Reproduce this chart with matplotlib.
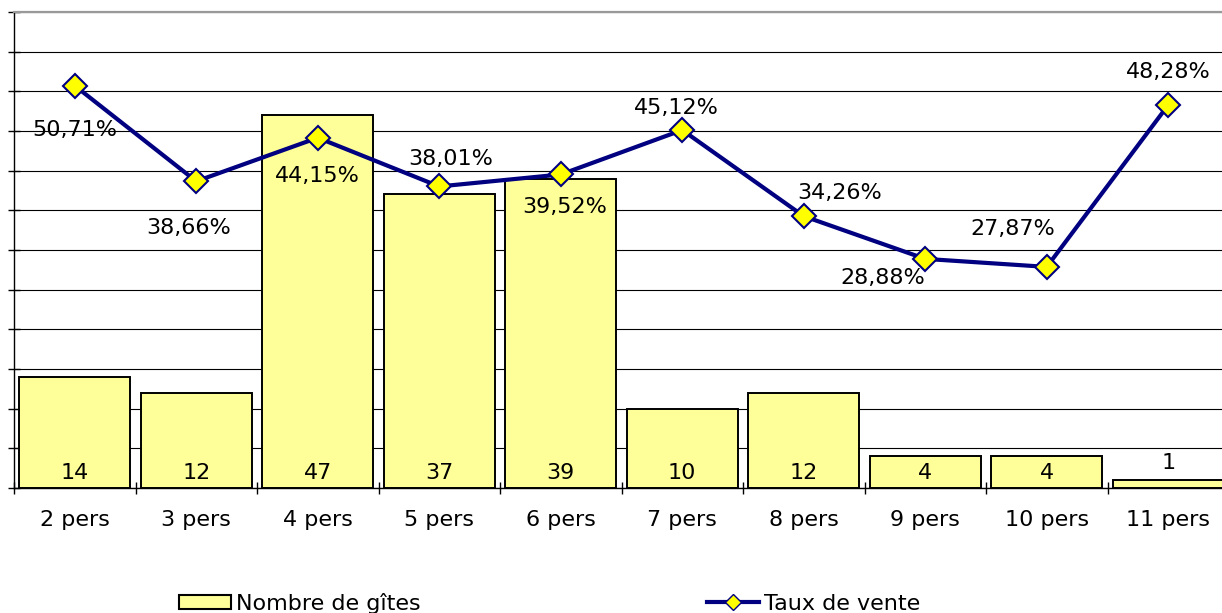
'''Nombre de gites et taux de vente par capacite'''

import matplotlib
matplotlib.use("Agg")
import matplotlib.pyplot as plt
from matplotlib.patches import Patch
from matplotlib.lines import Line2D

######################################
# DATA
categories = ["2 pers", "3 pers", "4 pers", "5 pers", "6 pers",
              "7 pers", "8 pers", "9 pers", "10 pers", "11 pers"]
nb_gites = [14, 12, 47, 37, 39, 10, 12, 4, 4, 1]
taux_vente = [50.71, 38.66, 44.15, 38.01, 39.52, 45.12, 34.26, 28.88, 27.87, 48.28]
######################################

# label offsets for the percentages (pixels, from the marker)
pct_offsets = [(0, -44), (-8, -47), (0, -38), (11, 27), (4, -33),
               (-6, 22), (36, 23), (-42, -19), (-34, 38), (0, 33)]

font_size = 16
navy = "#000080"

fig = plt.figure(figsize=(12.22, 6.13), dpi=100)
ax = fig.add_axes([14 / 1222, 125 / 613, 1215 / 1222, 476 / 613])

x = list(range(len(categories)))

# gridlines behind the bars
ax.set_axisbelow(True)
ax.yaxis.grid(True, color="black", linewidth=0.8)
ax.bar(x, nb_gites, width=0.91, color="#FFFF99", edgecolor="black", linewidth=1.4, zorder=2)

# bar counts, near the base (above the bar when it is too thin)
for xi, val in zip(x, nb_gites):
    if val < 3:
        ax.annotate(str(val), (xi, val), xytext=(0, 17), textcoords="offset pixels",
                    ha="center", va="center", fontsize=font_size, zorder=5)
    else:
        ax.annotate(str(val), (xi, 0), xytext=(0, 15), textcoords="offset pixels",
                    ha="center", va="center", fontsize=font_size, zorder=5)

ax.set_xlim(-0.5, len(categories) - 0.5)
ax.set_ylim(0, 60)
ax.set_yticks(range(0, 61, 5))
ax.set_yticklabels([])
ax.tick_params(axis="y", direction="inout", length=9, width=1)

ax.set_xticks(x)
ax.set_xticklabels(categories, fontsize=font_size)
ax.set_xticks([i - 0.5 for i in x], minor=True)
ax.tick_params(axis="x", which="major", length=0, pad=16)
ax.tick_params(axis="x", which="minor", direction="inout", length=8, width=1)

ax.spines["right"].set_visible(False)
ax.spines["top"].set_color("#999999")
ax.spines["top"].set_linewidth(1.6)
ax.spines["left"].set_linewidth(1)
ax.spines["bottom"].set_linewidth(1)

# taux de vente on a second axis with the same scale
ax2 = ax.twinx()
ax2.set_ylim(0, 60)
ax2.axis("off")
ax2.plot(x, taux_vente, color=navy, linewidth=3, marker="D", markersize=12.5,
         markerfacecolor="#FFFF00", markeredgecolor=navy, markeredgewidth=1.5, zorder=4)

for xi, val, off in zip(x, taux_vente, pct_offsets):
    txt = ("%.2f%%" % val).replace(".", ",")
    ax2.annotate(txt, (xi, val), xytext=off, textcoords="offset pixels",
                 ha="center", va="center", fontsize=font_size)

# legend at the bottom
handles = [Patch(facecolor="#FFFF99", edgecolor="black", linewidth=1.5),
           Line2D([], [], color=navy, linewidth=3, marker="D", markersize=8,
                  markerfacecolor="#FFFF00", markeredgecolor=navy)]
fig.legend(handles, ["Nombre de gîtes", "Taux de vente"], loc="center left",
           bbox_to_anchor=(179 / 1222, 10 / 613), ncol=2, frameon=False,
           fontsize=font_size, handlelength=2.35, handletextpad=0.2,
           columnspacing=12.9, borderpad=0, borderaxespad=0, handleheight=0.6)

fig.savefig("out.png", dpi=100)
